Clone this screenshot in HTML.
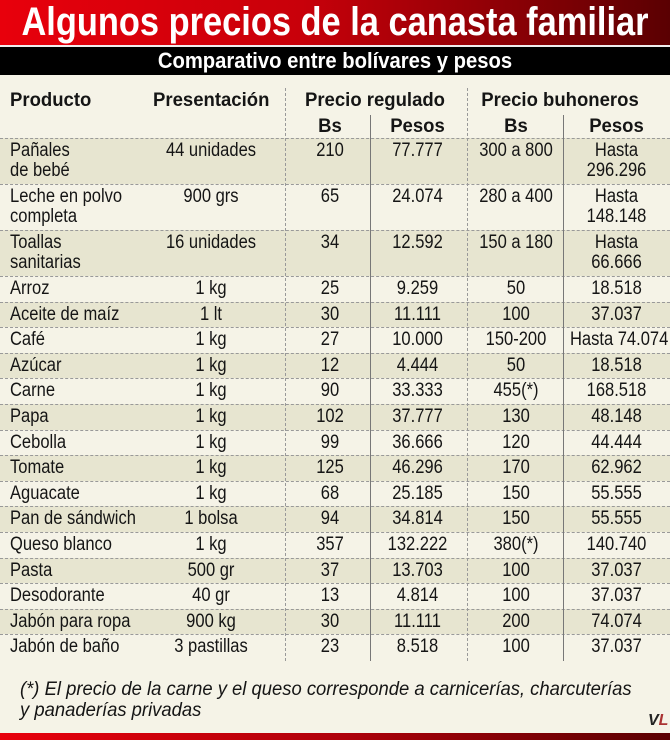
<!DOCTYPE html>
<html><head><meta charset="utf-8"><style>
body{margin:0;width:670px;height:740px;overflow:hidden;background:#f5f3e7;font-family:"Liberation Sans",sans-serif;position:relative}
.t{position:absolute;top:0;left:0;width:670px;height:45px;background:linear-gradient(90deg,#e8000c 0%,#c8000a 45%,#7a0004 85%,#5a0002 100%);border-bottom:2px solid #eee}
.t span{position:absolute;left:335px;top:0;color:#fff;font-weight:bold;font-size:40px;line-height:45px;white-space:nowrap;transform:translateX(-50%) scaleX(0.86)}
.s{position:absolute;top:47px;left:0;width:670px;height:28px;background:#000}
.s span{position:absolute;left:335px;top:0;color:#fff;font-weight:bold;font-size:22px;line-height:28px;white-space:nowrap;transform:translateX(-50%) scaleX(0.92)}
.c{position:absolute;font-size:19px;color:#151515;line-height:20px;white-space:nowrap;transform:scaleX(0.87)}
.h{font-weight:bold;font-size:19.5px;transform:scaleX(0.95)}
.row{position:absolute;left:0;width:670px;border-top:1px dashed #999}
.v{position:absolute;width:0}
.fn{position:absolute;left:20px;top:679px;font-style:italic;font-size:19px;line-height:21px;color:#151515;transform:scaleX(0.97);transform-origin:left;white-space:nowrap}
.bb{position:absolute;left:0;top:733px;width:670px;height:7px;background:linear-gradient(90deg,#e8000c,#b0000a 50%,#5a0002)}
</style></head><body>
<div class="t"><span>Algunos precios de la canasta familiar</span></div>
<div class="s"><span>Comparativo entre bolívares y pesos</span></div>
<div id="tb"></div>
<div class="v" style="left:285px;top:88px;height:573px;border-left:1px dashed #999"></div>
<div class="v" style="left:467px;top:88px;height:573px;border-left:1px dashed #999"></div>
<div class="v" style="left:370px;top:115px;height:546px;border-left:1px solid #777"></div>
<div class="v" style="left:563px;top:115px;height:546px;border-left:1px solid #777"></div>
<div class="c h" style="left:10px;top:90px;transform-origin:left">Producto</div>
<div class="c h" style="left:150px;width:122px;text-align:center;top:90px">Presentación</div>
<div class="c h" style="left:290px;width:170px;text-align:center;top:90px">Precio regulado</div>
<div class="c h" style="left:470px;width:180px;text-align:center;top:90px">Precio buhoneros</div>
<div class="c h" style="left:290px;width:80px;text-align:center;top:116px">Bs</div>
<div class="c h" style="left:370px;width:95px;text-align:center;top:116px">Pesos</div>
<div class="c h" style="left:470px;width:92px;text-align:center;top:116px">Bs</div>
<div class="c h" style="left:563px;width:107px;text-align:center;top:116px">Pesos</div>
<div class="fn">(*) El precio de la carne y el queso corresponde a carnicerías, charcuterías<br>y panaderías privadas</div>
<div style="position:absolute;left:648px;top:712px;font-weight:bold;font-style:italic;font-size:16px;color:#222">V<span style="color:#a33">L</span></div>
<div class="bb"></div>
<script>
var d=[["Pañales<br>de bebé","44 unidades","210","77.777","300 a 800","Hasta<br>296.296",2],
["Leche en polvo<br>completa","900 grs","65","24.074","280 a 400","Hasta<br>148.148",2],
["Toallas<br>sanitarias","16 unidades","34","12.592","150 a 180","Hasta<br>66.666",2],
["Arroz","1 kg","25","9.259","50","18.518",1],["Aceite de maíz","1 lt","30","11.111","100","37.037",1],
["Café","1 kg","27","10.000","150-200","Hasta 74.074",1],["Azúcar","1 kg","12","4.444","50","18.518",1],
["Carne","1 kg","90","33.333","455(*)","168.518",1],["Papa","1 kg","102","37.777","130","48.148",1],
["Cebolla","1 kg","99","36.666","120","44.444",1],["Tomate","1 kg","125","46.296","170","62.962",1],
["Aguacate","1 kg","68","25.185","150","55.555",1],["Pan de sándwich","1 bolsa","94","34.814","150","55.555",1],
["Queso blanco","1 kg","357","132.222","380(*)","140.740",1],["Pasta","500 gr","37","13.703","100","37.037",1],
["Desodorante","40 gr","13","4.814","100","37.037",1],["Jabón para ropa","900 kg","30","11.111","200","74.074",1],
["Jabón de baño","3 pastillas","23","8.518","100","37.037",1]];
var y=138,h="",cols=[[10,0,"left"],[150,122,"center"],[290,80,"center"],[370,95,"center"],[470,92,"center"],[563,107,"center"]];
d.forEach(function(r,i){var hh=r[6]==2?46:25.6;
h+='<div class="row" style="top:'+y+'px;height:'+hh+'px;background:'+(i%2?'#f5f3e7':'#e7e5d0')+'"></div>';
cols.forEach(function(c,j){h+='<div class="c" style="left:'+c[0]+'px;'+(c[1]?'width:'+c[1]+'px;':'transform-origin:left;')+'text-align:'+c[2]+';top:'+(y+3)+'px">'+r[j]+'</div>';});
y+=hh;});
document.getElementById('tb').innerHTML=h;
</script>
</body></html>
